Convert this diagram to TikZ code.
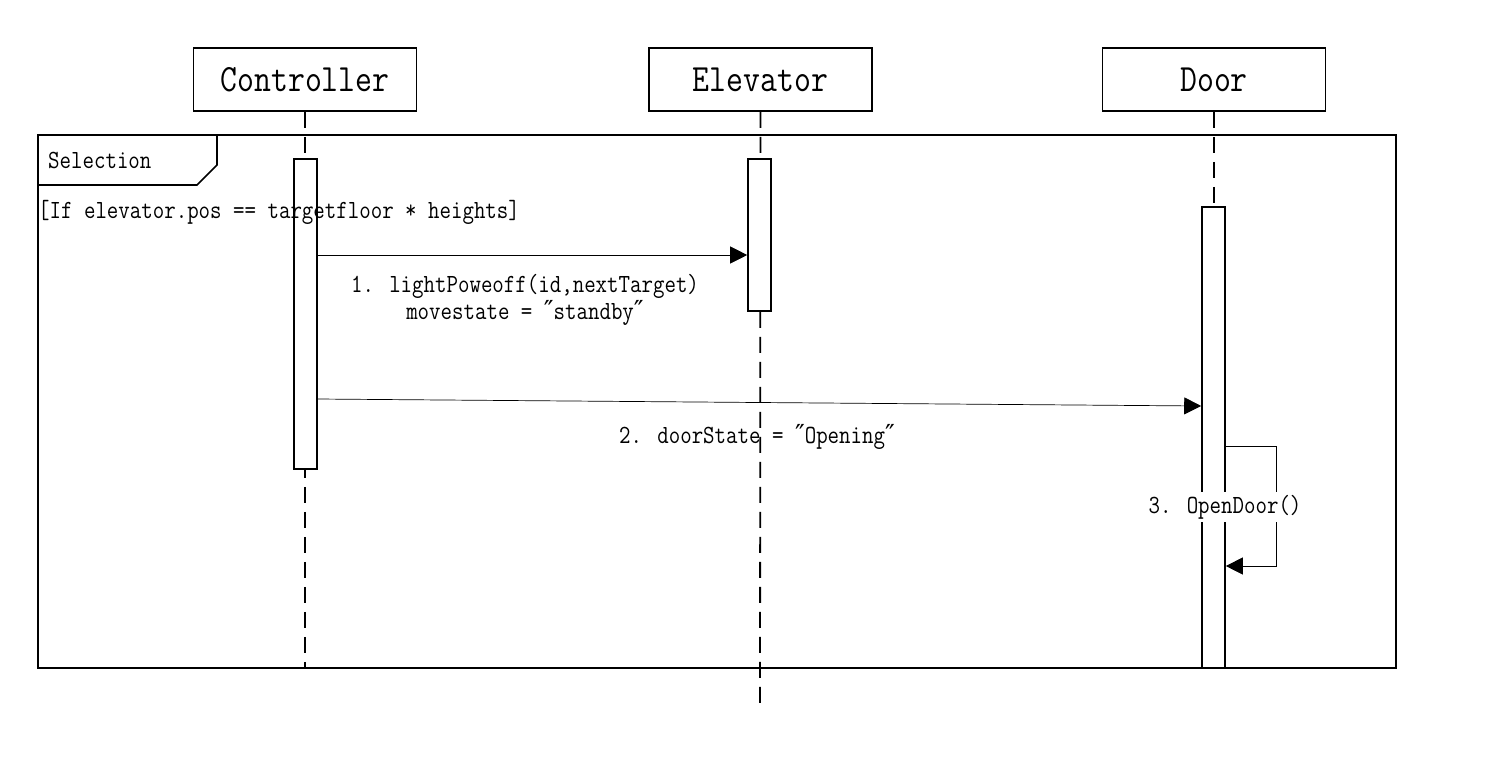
\documentclass[tikz,border=0pt]{standalone}
\usepackage{fontspec}
\newfontfamily\umlfont[FakeStretch=0.85]{Latin Modern Mono}
\newfontfamily\qfont{DejaVu Serif}
\newcommand{\dq}{{\qfont ″}}
\usetikzlibrary{arrows.meta}
\tikzset{
  actor/.style={draw, line width=1.6pt, minimum width=223pt, minimum height=63pt, inner sep=0pt,
    font=\umlfont\fontsize{38.6}{42}\selectfont},
  lifeline/.style={line width=1.8pt, dash pattern=on 16pt off 9pt},
  actbar/.style={draw, fill=white, line width=1.6pt, minimum width=23pt, inner sep=0pt},
  msg/.style={line width=0.7pt, -{Triangle[length=17pt,width=17pt]}},
  lbl/.style={font=\umlfont\fontsize{26.2}{27}\selectfont, inner sep=0pt},
  framebox/.style={draw, line width=2pt, minimum width=1358pt, minimum height=533pt, inner sep=0pt}
}
\begin{document}
\begin{tikzpicture}[x=1pt,y=-1pt]
\useasboundingbox (0,0) rectangle (1490,780);
% frame
\node[framebox] (frame) at (717,401.5) {};
\draw[line width=1.6pt] (frame.north west |- 0,185) -- (197,185) -- (217,165) -- (217,135);
% lifeline heads
\node[actor] (ctrl) at (305,79.5) {Controller};
\node[actor] (elev) at (760.5,79.5) {Elevator};
\node[actor] (door) at (1214,79.5) {Door};
\coordinate (ctrlEnd) at (305,668);
\coordinate (elevEnd) at (760,710);
\coordinate (doorEnd) at (1214,668);
\draw[lifeline] (ctrl.south) -- (ctrlEnd);
\draw[lifeline] (elev.south) -- (elevEnd);
\draw[lifeline] (door.south) -- (doorEnd);
% activation bars
\node[actbar, minimum height=310pt] (ca) at (305.5,314) {};
\node[actbar, minimum height=152pt] (ea) at (759.5,235) {};
\node[actbar, minimum height=461pt] (da) at (1213.5,437.5) {};
% frame texts
\node[lbl, anchor=west] (sel) at (48,160) {Selection};
\node[lbl, anchor=west] (guard) at (38,212) {[If elevator.pos == targetfloor * heights]};
% messages
\draw[msg] (ca.east |- 0,255) -- (ea.west |- 0,255);
\node[lbl, align=center] (m1) at (525,299.5) {1. lightPoweoff(id,nextTarget)\\movestate = \dq standby\dq};
\draw[msg] (ca.east |- 0,399) -- (da.west |- 0,406);
\node[lbl] (m2) at (757,437) {2. doorState = \dq Opening\dq};
\coordinate (loopA) at (1276,446);
\coordinate (loopB) at (1276,566);
\draw[msg] (da.east |- loopA) -- (loopA) -- (loopB) -- (da.east |- loopB);
\node[lbl, fill=white, inner xsep=1pt, inner ysep=3pt] (m3) at (1225,507) {3. OpenDoor()};
\end{tikzpicture}
\end{document}
